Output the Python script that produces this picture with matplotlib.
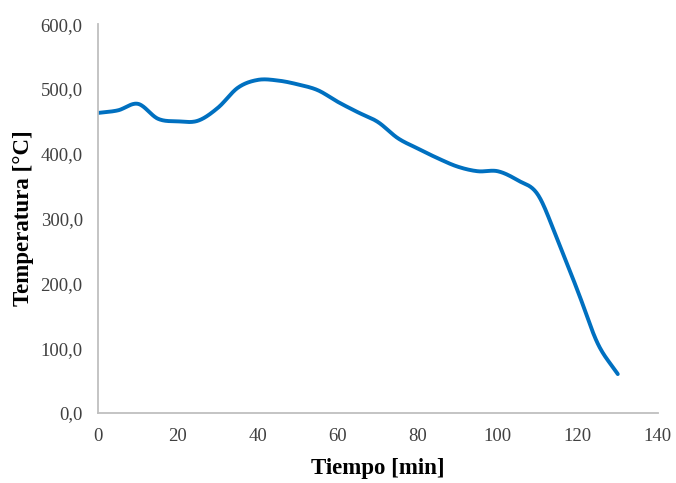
import numpy as np
import matplotlib
matplotlib.use('Agg')
import matplotlib.pyplot as plt
from matplotlib.ticker import FuncFormatter

# data (every 5 min)
tiempo = [0, 5, 10, 15, 20, 25, 30, 35, 40, 45, 50, 55, 60, 65,
          70, 75, 80, 85, 90, 95, 100, 105, 110, 115, 120, 125, 130]
temperatura = [463, 467, 477, 454, 450, 451, 471, 502, 514, 513, 507, 498, 480, 464,
               449, 424, 408, 393, 380, 373, 373, 359, 337, 266, 188, 107, 60]

x_ticks = [0, 20, 40, 60, 80, 100, 120, 140]
y_ticks = [0, 100, 200, 300, 400, 500, 600]


def catmull_rom(x, y, n=30):
    # smooth line like the spreadsheet "smoothed line" option
    x = np.asarray(x, float)
    y = np.asarray(y, float)
    px = np.concatenate([[2*x[0]-x[1]], x, [2*x[-1]-x[-2]]])
    py = np.concatenate([[2*y[0]-y[1]], y, [2*y[-1]-y[-2]]])
    xs, ys = [], []
    s = np.linspace(0, 1, n, endpoint=False)
    for i in range(1, len(px)-2):
        for arr, out in ((px, xs), (py, ys)):
            p0, p1, p2, p3 = arr[i-1], arr[i], arr[i+1], arr[i+2]
            out.append(0.5*((2*p1) + (-p0+p2)*s + (2*p0-5*p1+4*p2-p3)*s**2
                            + (-p0+3*p1-3*p2+p3)*s**3))
    xs.append([x[-1]])
    ys.append([y[-1]])
    return np.concatenate(xs), np.concatenate(ys)


plt.rcParams['font.family'] = 'Liberation Serif'

fig = plt.figure(figsize=(6.76, 4.83), dpi=100)
ax = fig.add_axes([0.145, 0.145, 0.828, 0.805])

xs, ys = catmull_rom(tiempo, temperatura)
ax.plot(xs, ys, color='#0070C0', linewidth=2.8, solid_capstyle='round')

ax.set_xlim(0, 140)
ax.set_ylim(0, 600)
ax.set_xticks(x_ticks)
ax.set_yticks(y_ticks)
ax.yaxis.set_major_formatter(FuncFormatter(lambda v, p: ('%.1f' % v).replace('.', ',')))
ax.tick_params(length=0, labelsize=13.5, colors='#404040', pad=11)
ax.tick_params(axis='x', pad=11)

for s in ['top', 'right']:
    ax.spines[s].set_visible(False)
for s in ['left', 'bottom']:
    ax.spines[s].set_color('#BFBFBF')
    ax.spines[s].set_linewidth(1.3)

ax.set_xlabel('Tiempo [min]', fontsize=16.5, fontweight='bold', labelpad=9)
ax.set_ylabel('Temperatura [°C]', fontsize=16.5, fontweight='bold', labelpad=5)

fig.savefig('out.png', dpi=100)
